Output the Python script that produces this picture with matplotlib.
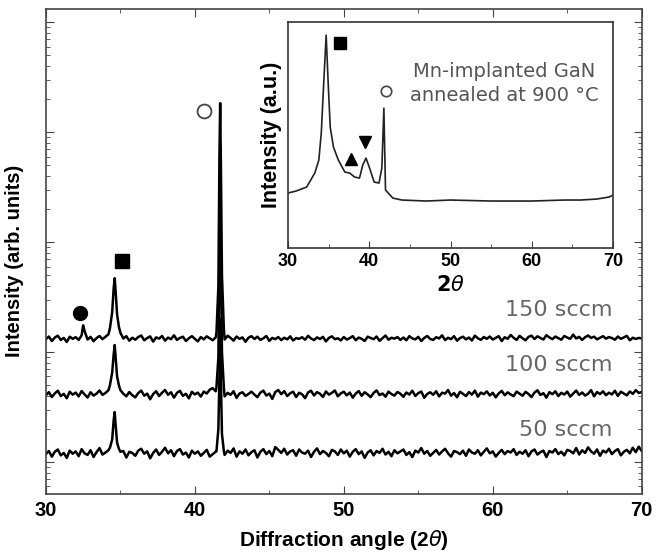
import numpy as np
import matplotlib
matplotlib.use("Agg")
import matplotlib.pyplot as plt
from matplotlib.ticker import MultipleLocator, LogLocator, NullFormatter

# scan grid of the main XRD traces (degrees 2theta)
scan_start, scan_stop, scan_points = 30.0, 70.0, 201

# baseline counts, one value per scan step (0.2 deg)
base_50 = [
    118, 126, 112, 124, 130, 115, 121, 109, 127, 119,
    125, 113, 131, 120, 116, 128, 111, 123, 134, 117,
    122, 129, 136, 140, 130, 118, 126, 110, 124, 121,
    114, 127, 132, 119, 125, 108, 121, 130, 116, 124,
    135, 120, 128, 113, 126, 131, 117, 122, 110, 127,
    119, 125, 114, 121, 129, 112, 118, 124, 130, 128,
    116, 127, 121, 133, 112, 125, 119, 130, 115, 123,
    128, 110, 124, 131, 118, 126, 113, 137, 129, 121,
    132, 117, 125, 128, 114, 130, 122, 119, 127, 111,
    124, 133, 118, 126, 121, 113, 129, 125, 116, 130,
    120, 127, 112, 124, 131, 118, 125, 109, 122, 128,
    115, 126, 121, 132, 117, 124, 113, 128, 120, 125,
    130, 116, 123, 111, 127, 122, 134, 119, 126, 114,
    121, 129, 117, 125, 132, 120, 112, 126, 123, 118,
    127, 114, 130, 122, 119, 128, 115, 124, 133, 120,
    125, 112, 121, 129, 118, 126, 122, 131, 116, 124,
    119, 128, 113, 125, 130, 117, 123, 127, 111, 126,
    122, 131, 118, 124, 115, 129, 126, 120, 134, 117,
    128, 121, 136, 125, 119, 130, 114, 127, 122, 132,
    118, 126, 131, 115, 124, 129, 120, 135, 123, 138,
    126,
]
base_100 = [
    405, 432, 390, 421, 445, 398, 417, 380, 436, 410,
    428, 395, 442, 412, 386, 431, 402, 419, 447, 408,
    425, 452, 490, 600, 470, 438, 418, 396, 433, 405,
    387, 424, 446, 401, 419, 372, 415, 440, 398, 427,
    452, 409, 431, 385, 426, 444, 400, 418, 379, 435,
    412, 428, 394, 437, 420, 455, 470, 440, 700, 650,
    395, 426, 408, 441, 383, 420, 431, 399, 416, 437,
    410, 389, 428, 446, 402, 419, 375, 433, 452, 414,
    441, 398, 422, 436, 390, 427, 413, 381, 429, 445,
    403, 432, 418, 391, 438, 410, 426, 447, 396, 421,
    436, 404, 428, 385, 419, 442, 400, 431, 412, 389,
    425, 448, 406, 420, 393, 437, 415, 402, 434, 418,
    392, 429, 411, 445, 399, 423, 438, 384, 416, 431,
    409, 440, 395, 427, 419, 452, 401, 424, 388, 435,
    417, 398, 433, 410, 446, 393, 428, 414, 439, 403,
    426, 387, 421, 444, 405, 430, 412, 397, 437, 419,
    401, 435, 416, 390, 428, 449, 407, 423, 385, 432,
    414, 440, 398, 426, 411, 437, 393, 420, 446, 408,
    429, 402, 418, 451, 396, 433, 415, 440, 405, 427,
    412, 445, 399, 436, 420, 404, 438, 417, 450, 425,
    433,
]
base_150 = [
    1310, 1385, 1260, 1355, 1410, 1290, 1345, 1235, 1380, 1320,
    1365, 1290, 1420, 1550, 1300, 1375, 1255, 1340, 1400, 1310,
    1380, 1450, 1700, 2500, 1600, 1420, 1330, 1395, 1270, 1350,
    1295, 1370, 1415, 1280, 1340, 1390, 1245, 1360, 1325, 1400,
    1270, 1355, 1310, 1420, 1290, 1345, 1380, 1260, 1335, 1395,
    1320, 1250, 1370, 1305, 1390, 1335, 1280, 1360, 2000, 1900,
    1300, 1410, 1345, 1270, 1385, 1320, 1360, 1240, 1350, 1395,
    1315, 1380, 1290, 1335, 1400, 1265, 1345, 1310, 1370, 1285,
    1350, 1305, 1390, 1275, 1340, 1320, 1365, 1295, 1405, 1330,
    1285, 1360, 1315, 1375, 1250, 1345, 1390, 1310, 1335, 1275,
    1370, 1300, 1340, 1395, 1280, 1355, 1320, 1260, 1380, 1345,
    1310, 1385, 1265, 1340, 1415, 1295, 1350, 1325, 1370, 1290,
    1355, 1280, 1395, 1330, 1305, 1375, 1260, 1345, 1400, 1315,
    1290, 1365, 1330, 1420, 1285, 1350, 1310, 1395, 1270, 1340,
    1380, 1305, 1355, 1275, 1410, 1335, 1290, 1370, 1320, 1385,
    1300, 1345, 1395, 1260, 1365, 1320, 1430, 1350, 1290, 1405,
    1335, 1280, 1375, 1410, 1315, 1390, 1345, 1300, 1425, 1360,
    1310, 1385, 1340, 1295, 1400, 1355, 1320, 1440, 1330, 1375,
    1290, 1365, 1415, 1345, 1380, 1305, 1350, 1395, 1325, 1370,
    1340, 1295, 1385, 1320, 1360, 1405, 1280, 1350, 1315, 1345,
    1330,
]

# peak profiles (finer sampling around reflections)
peak_x = [34.2, 34.3, 34.45, 34.55, 34.62, 34.68, 34.78, 34.9, 35.0,
          41.45, 41.58, 41.65, 41.7, 41.75, 41.82, 41.95]
peak_50 = [128, 135, 160, 240, 285, 220, 150, 132, 124,
           125, 200, 600, 2000, 550, 180, 125]
peak_100 = [450, 500, 650, 950, 1160, 900, 600, 500, 450,
            480, 900, 8000, 24000, 7000, 1000, 470]
peak_150 = [1450, 1650, 2300, 3800, 4700, 3600, 2200, 1700, 1500,
            1500, 4000, 60000, 183500, 50000, 5000, 1600]
bump_150_x, bump_150_y = [32.5], [1750]

flows = ["50 sccm", "100 sccm", "150 sccm"]
flow_label_y = [195, 762, 2410]

# inset: Mn-implanted GaN annealed at 900 C
inset_x = [30.0, 31.0, 32.3, 33.3, 33.8, 34.1, 34.4, 34.7, 34.95, 35.2, 35.6, 36.2,
           37.0, 37.6, 38.2, 38.8, 39.2, 39.6, 40.0, 40.6, 41.2, 41.55, 41.8,
           42.0, 42.9, 44.0, 47.0, 50.0, 55.0, 60.0, 64.0, 66.0, 68.0, 69.5, 70.0]
inset_y = [55, 57, 61, 75, 88, 115, 165, 213, 165, 121, 101, 88,
           76, 75, 71, 70, 83, 90, 81, 66, 65, 80, 140,
           58, 50, 48, 47, 48, 47, 47, 48, 48, 49, 51, 53]


def build_trace(base, px, py):
    x = np.linspace(scan_start, scan_stop, scan_points)
    y = np.array(base, dtype=float)
    keep = np.ones_like(x, dtype=bool)
    for lo, hi in [(34.15, 35.05), (41.45, 41.95)]:
        keep &= ~((x >= lo) & (x <= hi))
    xs = np.concatenate([x[keep], px])
    ys = np.concatenate([y[keep], py])
    order = np.argsort(xs)
    return xs[order], ys[order]


tick_font = {"family": "Liberation Sans", "weight": "bold"}

fig = plt.figure(figsize=(6.65, 5.56), dpi=100)
ax = fig.add_axes([0.069, 0.1115, 0.896, 0.872])

for base, pk in [(base_50, peak_50), (base_100, peak_100)]:
    x, y = build_trace(base, peak_x, pk)
    ax.plot(x, y, color="black", lw=1.8)
x, y = build_trace(base_150, peak_x + bump_150_x, peak_150 + bump_150_y)
ax.plot(x, y, color="black", lw=1.8)

ax.set_yscale("log")
ax.set_xlim(30, 70)
ax.set_ylim(51.2, 1.313e6)
ax.xaxis.set_major_locator(MultipleLocator(10))
ax.xaxis.set_minor_locator(MultipleLocator(5))
ax.yaxis.set_major_locator(LogLocator(base=10))
ax.yaxis.set_minor_locator(LogLocator(base=10, subs=np.arange(2, 10)))
ax.yaxis.set_major_formatter(NullFormatter())
ax.yaxis.set_minor_formatter(NullFormatter())
ax.tick_params(which="both", direction="in", top=True, right=True, color="#444444")
ax.tick_params(which="major", length=6)
ax.tick_params(which="minor", length=3)
for lab in ax.get_xticklabels():
    lab.set_fontproperties(tick_font)
    lab.set_fontsize(14.5)
ax.tick_params(axis="x", pad=5)
for s in ax.spines.values():
    s.set_color("#444444")
    s.set_linewidth(1.2)

ax.set_xlabel(r"Diffraction angle (2$\it{\theta}$)", fontsize=15, fontweight="bold",
              family="Liberation Sans", labelpad=6)
ax.set_ylabel("Intensity (arb. units)", fontsize=14.5, fontweight="bold",
              family="Liberation Sans")
ax.yaxis.set_label_coords(-0.037, 0.48)

for name, yv in zip(flows, flow_label_y):
    ax.text(68.05, yv, name, ha="right", va="center", fontsize=16, color="#666666")

ax.plot([32.3], [2262], "o", color="black", ms=10)
ax.plot([35.1], [6720], "s", color="black", ms=10)
ax.plot([40.6], [155000], "o", mfc="white", mec="#444444", mew=1.3, ms=10)

# inset
ins = fig.add_axes([0.433, 0.554, 0.489, 0.406])
ins.plot(inset_x, inset_y, color="#222222", lw=1.2)
ins.set_xlim(30, 70)
ins.set_ylim(0, 226)
ins.set_yticks([])
ins.xaxis.set_major_locator(MultipleLocator(10))
ins.xaxis.set_minor_locator(MultipleLocator(5))
ins.tick_params(which="both", direction="in", top=False, color="#444444")
ins.tick_params(which="major", length=5)
ins.tick_params(which="minor", length=3)
for lab in ins.get_xticklabels():
    lab.set_fontproperties(tick_font)
    lab.set_fontsize(13)
for s in ins.spines.values():
    s.set_color("#333333")
    s.set_linewidth(1.2)
ins.set_xlabel(r"2$\it{\theta}$", fontsize=15, fontweight="bold", labelpad=4)
ins.set_ylabel("Intensity (a.u.)", fontsize=15.5, fontweight="bold",
               family="Liberation Sans", labelpad=4)
ins.text(56.6, 164.5, "Mn-implanted GaN\nannealed at 900 \u00b0C", ha="center",
         va="center", fontsize=14, color="#555555", linespacing=1.35)
ins.plot([36.4], [205], "s", color="black", ms=8.5)
ins.plot([37.8], [89], "^", color="black", ms=8)
ins.plot([39.5], [106], "v", color="black", ms=8)
ins.plot([42.1], [157], "o", mfc="white", mec="#444444", mew=1.2, ms=7.5)

fig.savefig("out.png", dpi=100)
